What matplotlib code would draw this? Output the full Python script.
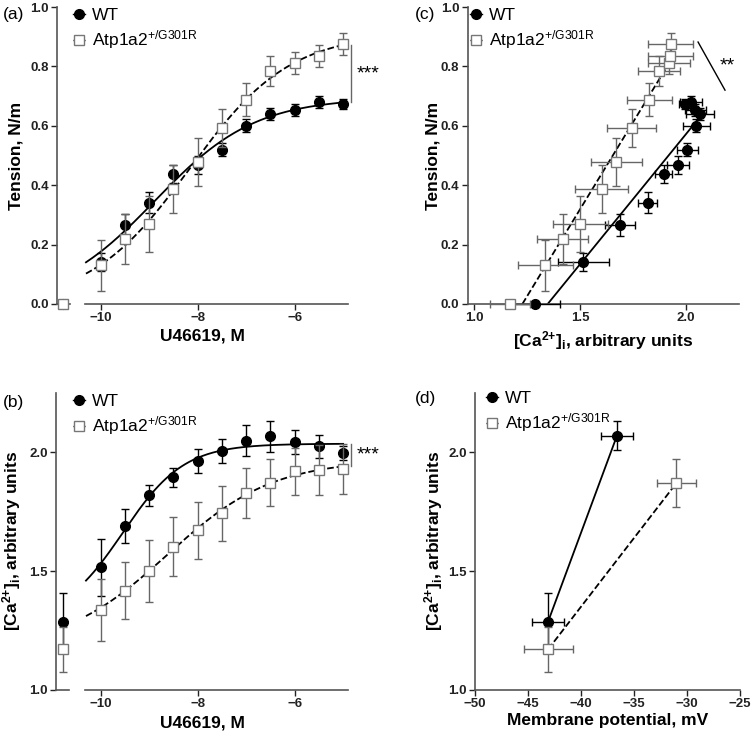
import numpy as np
import matplotlib.pyplot as plt
from matplotlib.lines import Line2D

plt.rcParams['font.family'] = ['Liberation Sans', 'DejaVu Sans']
plt.rcParams['mathtext.fontset'] = 'custom'
plt.rcParams['mathtext.rm'] = 'Liberation Sans'
plt.rcParams['mathtext.it'] = 'Liberation Sans:italic'
plt.rcParams['mathtext.bf'] = 'Liberation Sans:bold'

# dosis de U46619 (log M)
doses = [-10, -9.5, -9, -8.5, -8, -7.5, -7, -6.5, -6, -5.5, -5]

# Tension (N/m)
wt_tension = [0.141, 0.266, 0.341, 0.439, 0.467, 0.52, 0.60, 0.641, 0.654, 0.68, 0.673]
wt_tension_err = [0.03, 0.037, 0.035, 0.03, 0.03, 0.022, 0.022, 0.02, 0.02, 0.02, 0.017]
atp_tension = [0.13, 0.219, 0.27, 0.387, 0.478, 0.593, 0.688, 0.785, 0.811, 0.834, 0.875]
atp_tension_err = [0.087, 0.085, 0.095, 0.08, 0.08, 0.065, 0.055, 0.05, 0.037, 0.037, 0.037]
wt_tension_ctrl, atp_tension_ctrl = 0.0, 0.0

# [Ca2+]i (unidades arbitrarias)
wt_ca = [1.516, 1.69, 1.819, 1.895, 1.962, 2.006, 2.049, 2.066, 2.043, 2.024, 1.996]
wt_ca_err = [0.12, 0.07, 0.045, 0.04, 0.05, 0.05, 0.065, 0.065, 0.05, 0.05, 0.03]
atp_ca = [1.337, 1.418, 1.501, 1.603, 1.672, 1.743, 1.827, 1.872, 1.919, 1.926, 1.928]
atp_ca_err = [0.13, 0.12, 0.13, 0.125, 0.12, 0.115, 0.105, 0.1, 0.1, 0.105, 0.105]
wt_ca_ctrl, wt_ca_ctrl_err = 1.288, 0.12
atp_ca_ctrl, atp_ca_ctrl_err = 1.171, 0.095

# potencial de membrana (mV) vs [Ca2+]i
wt_vm = [-43.1, -36.6]
wt_vm_err = [1.5, 1.5]
wt_vm_ca = [1.288, 2.07]
wt_vm_ca_err = [0.12, 0.06]
atp_vm = [-43.1, -31.0]
atp_vm_err = [2.3, 1.85]
atp_vm_ca = [1.171, 1.87]
atp_vm_ca_err = [0.095, 0.1]

WT_LABEL = 'WT'
ATP_LABEL = r'Atp1a2$^{\mathrm{{+}/G301R}}$'
CA_LABEL = r'[Ca$^{\mathbf{2{+}}}$]$_{\mathbf{i}}$, arbitrary units'

W, H = 751, 735
fig = plt.figure(figsize=(W / 100, H / 100), dpi=100)


def px_axes(x0, x1, ytop, ybot):
    return fig.add_axes([x0 / W, 1 - ybot / H, (x1 - x0) / W, (ybot - ytop) / H])


def fit_logistic(x, y, bottom):
    # sigmoide con la base fija en el valor control; rejilla (ec50, hill) + amplitud por minimos cuadrados
    x = np.asarray(x, float)
    y = np.asarray(y, float) - bottom
    ecs = np.linspace(-11.5, -5, 326)[:, None, None]
    hs = np.linspace(0.15, 2.5, 236)[None, :, None]
    s = 1 / (1 + 10 ** ((ecs - x) * hs))
    amp = (s * y).sum(-1, keepdims=True) / (s * s).sum(-1, keepdims=True)
    sse = ((amp * s - y) ** 2).sum(-1)
    i, j = np.unravel_index(np.argmin(sse), sse.shape)
    a, ec, h = amp[i, j, 0], ecs[i, 0, 0], hs[0, j, 0]
    return lambda xx: bottom + a / (1 + 10 ** ((ec - xx) * h))


def eb(ax, x, y, xerr=None, yerr=None, filled=True, **kw):
    if filled:
        style = dict(fmt='o', ms=7, mfc='k', mec='k', ecolor='k')
    else:
        style = dict(fmt='s', ms=6.5, mfc='white', mec='#777777', mew=1.0, ecolor='#666666')
    c = ax.errorbar(x, y, xerr=xerr, yerr=yerr, elinewidth=1, capsize=3, capthick=1,
                    zorder=3 if filled else 4, **style, **kw)
    for a in c.get_children():
        a.set_clip_on(False)
    c.lines[0].set_clip_on(False)
    return c


def bold_ticks(ax):
    ax.tick_params(direction='out', length=4, width=1, pad=2, labelsize=9.5, colors='#222222')
    for lab in ax.get_xticklabels() + ax.get_yticklabels():
        lab.set_fontweight('bold')


def style_spines(ax, keep):
    for side in ['left', 'right', 'top', 'bottom']:
        if side in keep:
            ax.spines[side].set_color('#555555')
            ax.spines[side].set_linewidth(1.2)
        else:
            ax.spines[side].set_visible(False)


def add_legend(ax, x, y):
    handles = [Line2D([], [], color='k', marker='o', ms=7, ls='-', lw=1),
               Line2D([], [], color='k', marker='s', ms=6.5, mfc='white', mec='#777777', ls='--', lw=1)]
    ax.legend(handles, [WT_LABEL, ATP_LABEL], loc='upper left', bbox_to_anchor=(x / W, 1 - y / H),
              bbox_transform=fig.transFigure, frameon=False, handlelength=0.7, handletextpad=0.4,
              borderpad=0, borderaxespad=0, labelspacing=0.3, fontsize=12.5)


xfit = np.linspace(-10.3, -5, 200)

# ---------- (a) Tension vs U46619 ----------
ax_a0 = px_axes(57, 70, 7, 304)
ax_a = px_axes(85, 348, 7, 304)
for ax in (ax_a0, ax_a):
    ax.set_ylim(0, 1.0)
    ax.set_facecolor('none')
ax_a0.set_xlim(-1, 1)
ax_a.set_xlim(-10.32, -4.9)
style_spines(ax_a0, ['left', 'bottom'])
style_spines(ax_a, ['bottom'])
ax_a0.set_xticks([])
ax_a0.set_yticks(np.arange(0, 1.01, 0.2))
ax_a0.set_yticklabels([f'{v:.1f}' for v in np.arange(0, 1.01, 0.2)])
ax_a.set_yticks([])
ax_a.set_xticks([-10, -8, -6])

eb(ax_a0, [0], [wt_tension_ctrl], filled=True)
eb(ax_a0, [0], [atp_tension_ctrl], filled=False)
fa_wt = fit_logistic(doses, wt_tension, wt_tension_ctrl)
fa_atp = fit_logistic(doses, atp_tension, atp_tension_ctrl)
ax_a.plot(xfit, fa_wt(xfit), 'k-', lw=1.3, clip_on=False)
ax_a.plot(xfit, fa_atp(xfit), 'k--', lw=1.3, clip_on=False)
eb(ax_a, doses, wt_tension, yerr=wt_tension_err, filled=True)
eb(ax_a, doses, atp_tension, yerr=atp_tension_err, filled=False)

xs = doses[-1] + 0.17
ax_a.plot([xs, xs], [fa_wt(doses[-1]), fa_atp(doses[-1])], color='#666666', lw=1, clip_on=False)
ax_a.text(xs + 0.1, (fa_wt(doses[-1]) + fa_atp(doses[-1])) / 2, '***', fontsize=14,
          va='center', ha='left', clip_on=False)

ax_a0.set_ylabel('Tension, N/m', fontsize=12.5, fontweight='bold')
ax_a0.yaxis.set_label_coords((23 - 57) / 13, 0.5)
ax_a.set_xlabel('U46619, M', fontsize=12.5, fontweight='bold')
ax_a.xaxis.set_label_coords((202 - 85) / 263, -(329 - 304) / 297)
bold_ticks(ax_a0)
bold_ticks(ax_a)
add_legend(ax_a, 73, 8)
fig.text(3 / W, 1 - 14 / H, '(a)', fontsize=12.5, va='center', ha='left')

# ---------- (b) [Ca2+]i vs U46619 ----------
ax_b0 = px_axes(56, 69, 392.7, 690)
ax_b = px_axes(85, 348, 392.7, 690)
for ax in (ax_b0, ax_b):
    ax.set_ylim(1.0, 2.25)
    ax.set_facecolor('none')
ax_b0.set_xlim(-1, 1)
ax_b.set_xlim(-10.32, -4.9)
style_spines(ax_b0, ['left', 'bottom'])
style_spines(ax_b, ['bottom'])
ax_b0.set_xticks([])
ax_b0.set_yticks([1.0, 1.5, 2.0])
ax_b0.set_yticklabels(['1.0', '1.5', '2.0'])
ax_b.set_yticks([])
ax_b.set_xticks([-10, -8, -6])

eb(ax_b0, [0], [wt_ca_ctrl], yerr=[wt_ca_ctrl_err], filled=True)
eb(ax_b0, [0], [atp_ca_ctrl], yerr=[atp_ca_ctrl_err], filled=False)
fb_wt = fit_logistic(doses, wt_ca, wt_ca_ctrl)
fb_atp = fit_logistic(doses, atp_ca, atp_ca_ctrl)
ax_b.plot(xfit, fb_wt(xfit), 'k-', lw=1.3, clip_on=False)
ax_b.plot(xfit, fb_atp(xfit), 'k--', lw=1.3, clip_on=False)
eb(ax_b, doses, wt_ca, yerr=wt_ca_err, filled=True)
eb(ax_b, doses, atp_ca, yerr=atp_ca_err, filled=False)

ax_b.plot([xs, xs], [fb_wt(doses[-1]), fb_atp(doses[-1])], color='#666666', lw=1, clip_on=False)
ax_b.text(xs + 0.1, (fb_wt(doses[-1]) + fb_atp(doses[-1])) / 2, '***', fontsize=14,
          va='center', ha='left', clip_on=False)

ax_b0.set_ylabel(CA_LABEL, fontsize=12.5, fontweight='bold')
ax_b0.yaxis.set_label_coords((23 - 56) / 13, 0.5)
ax_b.set_xlabel('U46619, M', fontsize=12.5, fontweight='bold')
ax_b.xaxis.set_label_coords((202 - 85) / 263, -(715 - 690) / 297.3)
bold_ticks(ax_b0)
bold_ticks(ax_b)
add_legend(ax_b, 73, 394)
fig.text(3 / W, 1 - 402 / H, '(b)', fontsize=12.5, va='center', ha='left')

# ---------- (c) Tension vs [Ca2+]i ----------
ax_c = px_axes(467.6, 739, 7, 304)
ax_c.set_xlim(0.97, 2.25)
ax_c.set_ylim(0, 1.0)
style_spines(ax_c, ['left', 'bottom'])
ax_c.set_xticks([1.0, 1.5, 2.0])
ax_c.set_xticklabels(['1.0', '1.5', '2.0'])
ax_c.set_yticks(np.arange(0, 1.01, 0.2))
ax_c.set_yticklabels([f'{v:.1f}' for v in np.arange(0, 1.01, 0.2)])

# regresion lineal (control incluido), desde el corte con T=0 hasta el maximo de Ca
for ca, t, ca0, t0, ls in [(wt_ca, wt_tension, wt_ca_ctrl, wt_tension_ctrl, '-'),
                           (atp_ca, atp_tension, atp_ca_ctrl, atp_tension_ctrl, '--')]:
    k, b = np.polyfit([ca0] + ca, [t0] + t, 1)
    xl = np.linspace(-b / k, max(ca), 50)
    ax_c.plot(xl, k * xl + b, color='k', ls=ls, lw=1.3)
eb(ax_c, [wt_ca_ctrl], [wt_tension_ctrl], xerr=[wt_ca_ctrl_err], filled=True)
eb(ax_c, [atp_ca_ctrl], [atp_tension_ctrl], xerr=[atp_ca_ctrl_err], filled=False)
eb(ax_c, wt_ca, wt_tension, xerr=wt_ca_err, yerr=wt_tension_err, filled=True)
eb(ax_c, atp_ca, atp_tension, xerr=atp_ca_err, yerr=atp_tension_err, filled=False)

ax_c.plot([2.057, 2.184], [0.882, 0.72], color='k', lw=1, clip_on=False)
ax_c.text(2.16, 0.80, '**', fontsize=14, va='center', ha='left')

ax_c.set_ylabel('Tension, N/m', fontsize=12.5, fontweight='bold')
ax_c.yaxis.set_label_coords((441 - 467.6) / 271.4, 0.5)
ax_c.set_xlabel(CA_LABEL, fontsize=12.5, fontweight='bold')
ax_c.xaxis.set_label_coords(0.5, -(329 - 304) / 297)
bold_ticks(ax_c)
add_legend(ax_c, 470, 8)
fig.text(415 / W, 1 - 14 / H, '(c)', fontsize=12.5, va='center', ha='left')

# ---------- (d) [Ca2+]i vs potencial de membrana ----------
ax_d = px_axes(475, 740, 392.7, 690)
ax_d.set_xlim(-50, -25)
ax_d.set_ylim(1.0, 2.25)
style_spines(ax_d, ['left', 'bottom'])
ax_d.set_xticks(np.arange(-50, -24, 5))
ax_d.set_yticks([1.0, 1.5, 2.0])
ax_d.set_yticklabels(['1.0', '1.5', '2.0'])
ax_d.plot(wt_vm, wt_vm_ca, 'k-', lw=1.3)
ax_d.plot(atp_vm, atp_vm_ca, 'k--', lw=1.3)
eb(ax_d, wt_vm, wt_vm_ca, xerr=wt_vm_err, yerr=wt_vm_ca_err, filled=True)
eb(ax_d, atp_vm, atp_vm_ca, xerr=atp_vm_err, yerr=atp_vm_ca_err, filled=False)

ax_d.set_ylabel(CA_LABEL, fontsize=12.5, fontweight='bold')
ax_d.yaxis.set_label_coords((445 - 475) / 265, 0.5)
ax_d.set_xlabel('Membrane potential, mV', fontsize=12.5, fontweight='bold')
ax_d.xaxis.set_label_coords(0.5, -(713 - 690) / 297.3)
bold_ticks(ax_d)
add_legend(ax_d, 486, 391)
fig.text(415 / W, 1 - 398 / H, '(d)', fontsize=12.5, va='center', ha='left')

fig.savefig('out.png', dpi=100)
